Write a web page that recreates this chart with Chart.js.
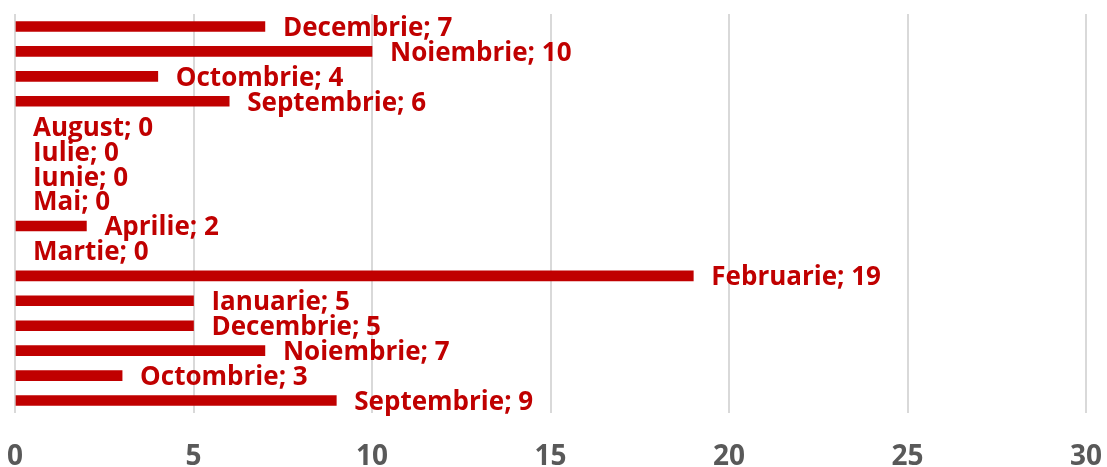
<!DOCTYPE html>
<html>
<head>
<meta charset="utf-8">
<script src="https://cdn.jsdelivr.net/npm/chart.js@4"></script>
<style>
    html, body { margin: 0; padding: 0; background: #ffffff; }
    #wrap { width: 1107px; height: 467px; }
</style>
</head>
<body>
<div id="wrap"><canvas id="monthChart" width="1107" height="467"></canvas></div>
<script>
// Months, top to bottom as they appear in the chart
const months = [
    'Decembrie', 'Noiembrie', 'Octombrie', 'Septembrie', 'August', 'Iulie',
    'Iunie', 'Mai', 'Aprilie', 'Martie', 'Februarie', 'Ianuarie',
    'Decembrie', 'Noiembrie', 'Octombrie', 'Septembrie'
];
const counts = [7, 10, 4, 6, 0, 0, 0, 0, 2, 0, 19, 5, 5, 7, 3, 9];
const xTicks = [0, 5, 10, 15, 20, 25, 30];

const RED = '#C00000';

/** Draws "Month; value" right after the end of each bar */
const barLabels = {
    id: 'barLabels',
    afterDatasetsDraw(chart) {
        const ctx = chart.ctx;
        const meta = chart.getDatasetMeta(0);
        ctx.save();
        ctx.font = 'bold 26px "Open Sans"';
        ctx.fillStyle = RED;
        ctx.textAlign = 'left';
        ctx.textBaseline = 'middle';
        meta.data.forEach((bar, i) => {
            const text = chart.data.labels[i] + '; ' + chart.data.datasets[0].data[i];
            ctx.fillText(text, bar.x + 18, bar.y + 2);
        });
        ctx.restore();
    }
};

new Chart(document.getElementById('monthChart').getContext('2d'), {
    type: 'bar',
    data: {
        labels: months,
        datasets: [{
            data: counts,
            // zero-length bars are left invisible
            backgroundColor: c => (c.raw === 0 ? 'rgba(0,0,0,0)' : RED),
            borderWidth: 0,
            barThickness: 10
        }]
    },
    options: {
        indexAxis: 'y',
        responsive: false,
        animation: false,
        layout: { padding: { left: 15, right: 21, top: 14, bottom: 0 } },
        scales: {
            x: {
                min: 0,
                max: 30,
                afterBuildTicks: scale => { scale.ticks = xTicks.map(v => ({ value: v })); },
                afterFit: scale => {
                    scale.height = 54;
                    scale.paddingLeft = 0;
                    scale.paddingRight = 0;
                },
                border: { display: false },
                grid: { color: '#D9D9D9', lineWidth: 2, drawTicks: false },
                ticks: {
                    color: '#595959',
                    font: { family: 'Open Sans', size: 28, weight: 'bold' },
                    padding: 27,
                    maxRotation: 0
                }
            },
            y: {
                display: false
            }
        },
        plugins: {
            legend: { display: false },
            tooltip: { enabled: false }
        }
    },
    plugins: [barLabels]
});
</script>
</body>
</html>
